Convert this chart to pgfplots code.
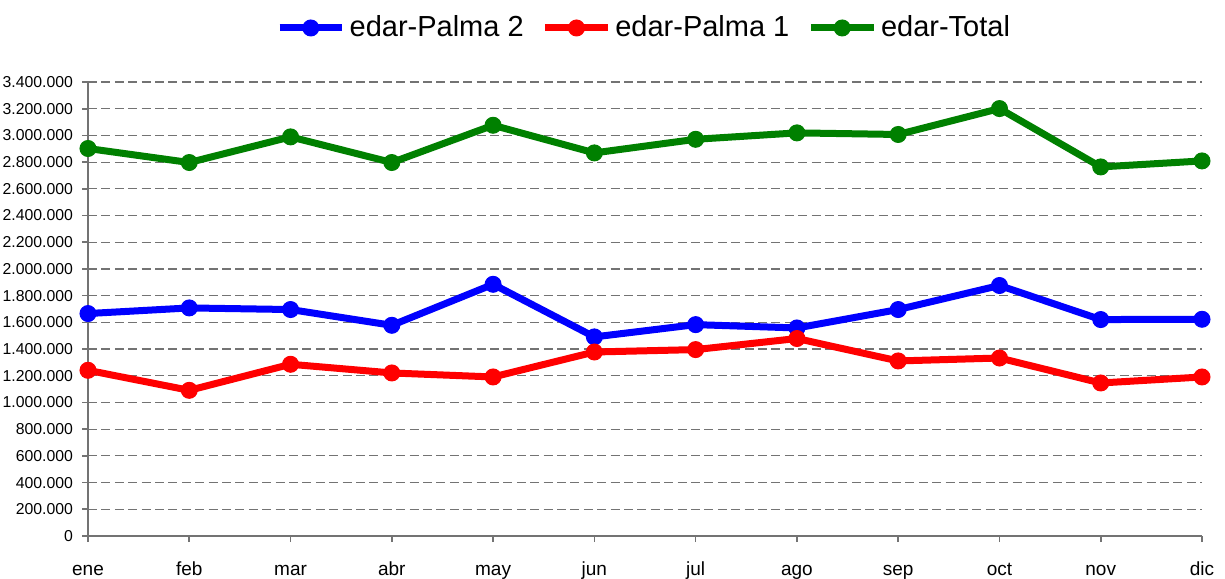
\documentclass[border=0pt]{standalone}
\usepackage{fontspec}
\setmainfont{Liberation Sans}
\usepackage{pgfplots}
\pgfplotsset{compat=1.18}
\definecolor{cblue}{RGB}{0,0,255}
\definecolor{cred}{RGB}{255,0,0}
\definecolor{cgreen}{RGB}{0,128,0}
\definecolor{gridgray}{RGB}{115,115,115}
\begin{document}
\begin{tikzpicture}
\path[use as bounding box] (-44pt,-21pt) rectangle (568.5pt,268pt);
\begin{axis}[
  scale only axis,
  width=557pt, height=227pt,
  xmin=0, xmax=11,
  ymin=0, ymax=3400000,
  ytick={0,200000,...,3400000},
  xtick={0,...,11},
  xticklabels={ene,feb,mar,abr,may,jun,jul,ago,sep,oct,nov,dic},
  axis lines=left,
  axis line style={gridgray, line width=0.8pt, -},
  x axis line style={-},
  y axis line style={-},
  tick align=outside,
  major tick length=3pt,
  tick style={gridgray, line width=0.8pt},
  ymajorgrids,
  major grid style={gridgray, line width=0.6pt, dash pattern=on 4.5pt off 2.2pt},
  scaled y ticks=false,
  /pgf/number format/.cd, fixed, precision=0, 1000 sep={.}, assume math mode=true,
  /pgfplots/.cd,
  yticklabel style={font=\fontsize{7.9}{9}\selectfont, xshift=-1pt},
  xticklabel style={font=\fontsize{9.5}{11}\selectfont, text height=7pt, text depth=2pt, yshift=-6pt},
  clip=false,
  legend columns=3,
  legend style={at={(0.5,1.119)}, anchor=center, draw=none, fill=none,
    font=\fontsize{14.5}{16}\selectfont,
    /tikz/every even column/.append style={column sep=7pt},
    inner sep=0pt},
  legend image code/.code={%
    \draw[#1, mark repeat=2, mark phase=2] plot coordinates {(0cm,0cm)(0.55cm,0cm)(1.1cm,0cm)};},
  every axis plot/.append style={line width=3.5pt, mark=*, mark size=4pt, mark options={solid, line width=0.5pt}},
]
\addplot[color=cblue] coordinates {
(0,1666000)(1,1708000)(2,1696000)(3,1578000)(4,1885000)(5,1491000)
(6,1583000)(7,1558000)(8,1696000)(9,1876000)(10,1621000)(11,1623000)};
\addlegendentry{edar-Palma 2}
\addplot[color=cred] coordinates {
(0,1241000)(1,1091000)(2,1286000)(3,1221000)(4,1191000)(5,1378000)
(6,1396000)(7,1479000)(8,1311000)(9,1333000)(10,1146000)(11,1191000)};
\addlegendentry{edar-Palma 1}
\addplot[color=cgreen] coordinates {
(0,2902000)(1,2797000)(2,2989000)(3,2797000)(4,3076000)(5,2869000)
(6,2971000)(7,3019000)(8,3007000)(9,3201000)(10,2764000)(11,2809000)};
\addlegendentry{edar-Total}
\end{axis}
\end{tikzpicture}
\end{document}
